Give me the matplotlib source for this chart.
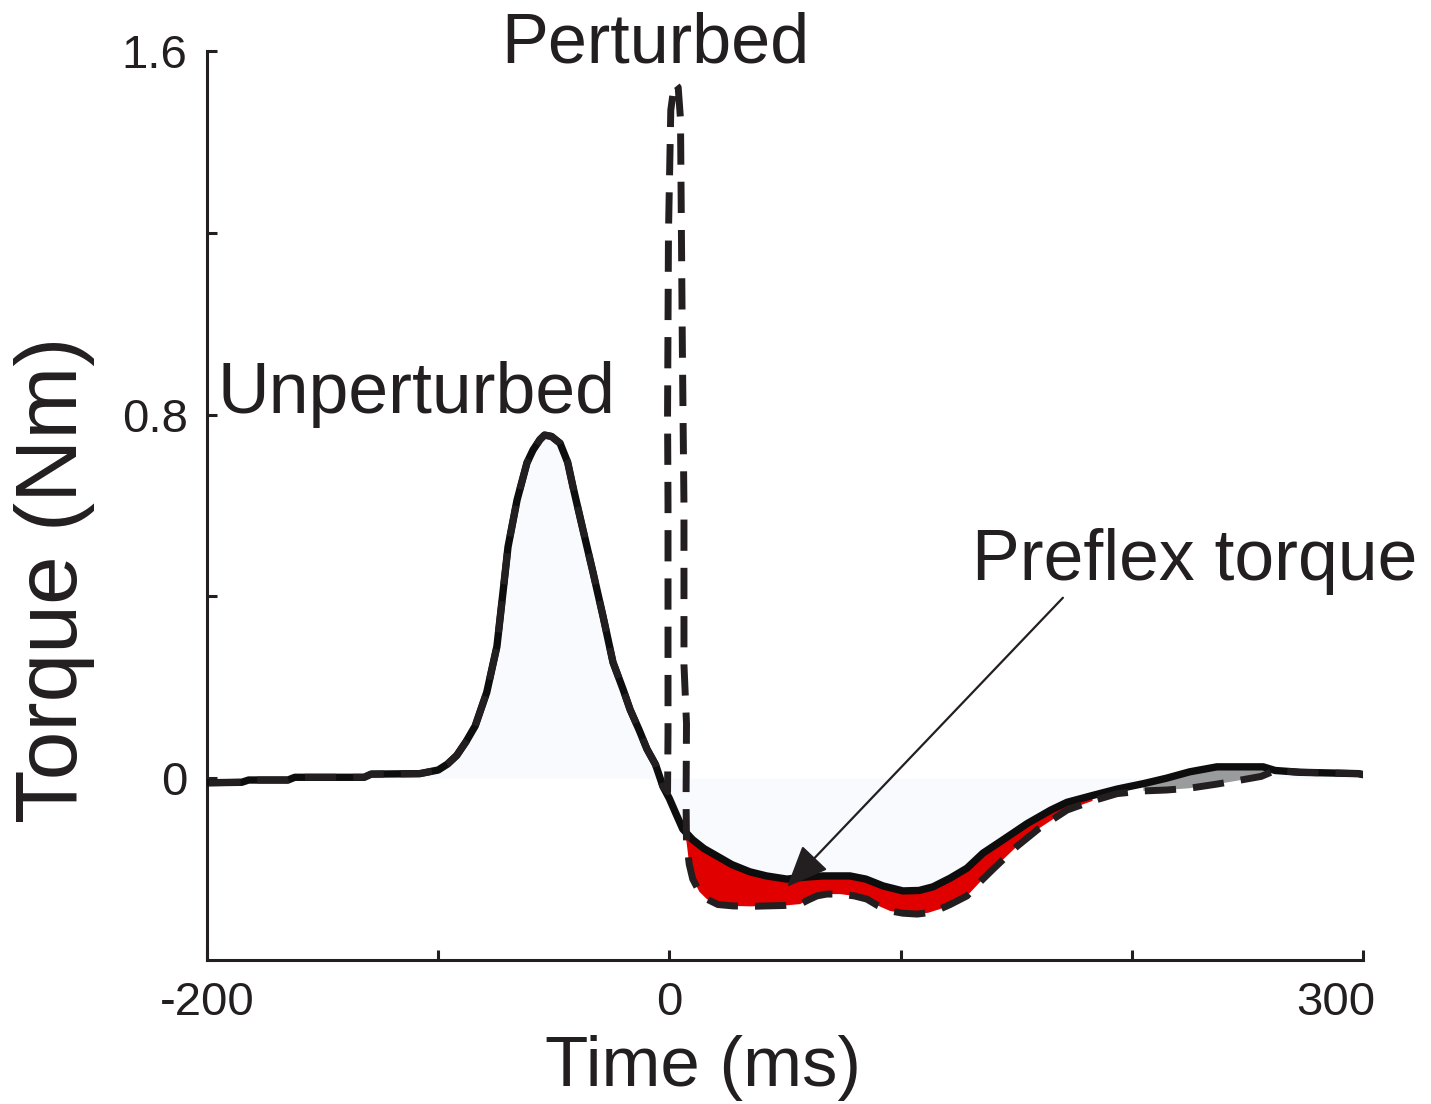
import numpy as np
import matplotlib
matplotlib.use("Agg")
import matplotlib.pyplot as plt
from matplotlib.transforms import ScaledTranslation

plt.rcParams["font.family"] = ["Liberation Sans", "DejaVu Sans"]

INK = "#231f20"

# Unperturbed joint torque (Nm) vs time (ms)
t_unpert = [-199, -185, -182, -165, -162, -132, -129, -108, -100, -96, -92, -88,
            -84, -79, -74.6, -72, -69.8, -65.9, -61.6, -59, -56, -54, -51, -47.3,
            -44, -41.7, -37.4, -33, -28.7, -24.4, -20, -17, -13, -9.7, -6, -2.8,
            0, 3, 5.8, 10, 15, 20.5, 27, 34.8, 42, 50.8, 58, 66.4, 78.1, 85, 92.4,
            101, 108, 114, 121.4, 128.7, 135.6, 143, 154.7, 165, 172, 183, 193.6,
            205, 215, 225, 236.8, 256.8, 262, 272.8, 290, 298, 302]
v_unpert = [-0.010, -0.009, -0.004, -0.004, 0.002, 0.002, 0.009, 0.010, 0.018,
            0.031, 0.050, 0.080, 0.115, 0.189, 0.290, 0.408, 0.509, 0.612, 0.694,
            0.722, 0.745, 0.755, 0.752, 0.737, 0.695, 0.641, 0.547, 0.452, 0.356,
            0.255, 0.195, 0.151, 0.105, 0.064, 0.030, -0.018, -0.045, -0.080,
            -0.112, -0.135, -0.155, -0.171, -0.190, -0.206, -0.215, -0.222, -0.218,
            -0.215, -0.215, -0.222, -0.237, -0.248, -0.247, -0.239, -0.220, -0.198,
            -0.165, -0.140, -0.100, -0.070, -0.053, -0.038, -0.024, -0.012, 0.000,
            0.014, 0.025, 0.025, 0.017, 0.013, 0.011, 0.010, 0.006]

# Perturbed torque after the perturbation onset (before onset it equals the unperturbed trace)
t_pert_post = [-0.8, -0.6, -0.6, -0.8, -0.4, 0.6, 2.2, 3.8, 4.8, 5.2, 5.6, 6.3, 6.3,
               7.4, 7.2, 7.4, 8.6, 10.1, 13, 16.2, 21, 27.5, 35, 42.2, 50, 56.5, 60,
               63.8, 68, 73.8, 80, 85.4, 90, 95.4, 101, 107.1, 112, 117, 121.4,
               128.7, 135, 140, 150.3, 160, 172, 183, 193.6, 205, 215, 225, 236.8,
               245, 256, 262, 272.8, 290, 298, 302]
v_pert_post = [-0.030, 0.100, 0.600, 0.800, 1.200, 1.470, 1.530, 1.520, 1.450, 1.200,
               0.950, 0.600, 0.250, 0.120, -0.050, -0.140, -0.190, -0.222, -0.250,
               -0.266, -0.278, -0.281, -0.282, -0.281, -0.280, -0.277, -0.268, -0.259,
               -0.255, -0.255, -0.259, -0.266, -0.280, -0.292, -0.297, -0.299, -0.296,
               -0.288, -0.278, -0.259, -0.225, -0.200, -0.150, -0.110, -0.070, -0.050,
               -0.034, -0.028, -0.026, -0.022, -0.013, -0.006, 0.004, 0.017, 0.013,
               0.011, 0.010, 0.006]

x_ticks = [-200, -100, 0, 100, 200, 300]
x_ticklabels = ["-200", "", "0", "", "", "300"]
y_ticks = [0, 0.4, 0.8, 1.2, 1.6]
y_ticklabels = ["0", "", "0.8", "", "1.6"]

tu = np.array(t_unpert)
vu = np.array(v_unpert)
pre = tu < -1
tp = np.concatenate([tu[pre], t_pert_post])
vp = np.concatenate([vu[pre], v_pert_post])

fig = plt.figure(figsize=(14.31, 11.04), dpi=100)
ax = fig.add_axes([207 / 1431, 1 - 960 / 1104, 1156 / 1431, 909 / 1104])

# faint shading under the unperturbed trace
ax.fill_between(tu, vu, 0, color="#f8fafd", lw=0, zorder=1)


def band(lo_u, lo_p, hi, color):
    mu = (tu >= lo_u) & (tu <= hi)
    mp = (tp >= lo_p) & (tp <= hi) & (vp < 0.05)
    xs = np.concatenate([tu[mu], tp[mp][::-1]])
    ys = np.concatenate([vu[mu], vp[mp][::-1]])
    ax.fill(xs, ys, color=color, lw=0, zorder=2)


band(5.8, 7.3, 186, "#e10000")   # preflex torque
band(200, 200, 262, "#9a9b9d")

ax.plot(tu, vu, color="#0d0d0d", lw=5.3, solid_joinstyle="round", zorder=3)
ax.plot(tp, vp, color=INK, lw=5.0, linestyle=(0, (4.5, 2.45)), zorder=4)

ax.set_xlim(-200, 300)
ax.set_ylim(-0.4, 1.6)
for side in ("top", "right"):
    ax.spines[side].set_visible(False)
for side in ("left", "bottom"):
    ax.spines[side].set_linewidth(2.2)
    ax.spines[side].set_color(INK)

ax.set_xticks(x_ticks)
ax.set_xticklabels(x_ticklabels)
ax.set_yticks(y_ticks)
ax.set_yticklabels(y_ticklabels)
ax.tick_params(direction="in", length=7.5, width=2.2, color=INK,
               labelsize=34, labelcolor=INK)
ax.tick_params(axis="x", pad=15)
ax.tick_params(axis="y", pad=14)
lbl = ax.get_xticklabels()[-1]
lbl.set_transform(lbl.get_transform() + ScaledTranslation(-27 / 100, 0, fig.dpi_scale_trans))

ax.set_xlabel("Time (ms)", fontsize=51, color=INK)
ax.xaxis.set_label_coords(0.429, -0.083)
ax.set_ylabel("Torque (Nm)", fontsize=63, color=INK)
ax.yaxis.set_label_coords(-0.097, 0.418)

ax.text(-6, 1.574, "Perturbed", fontsize=50.5, color=INK, ha="center",
        va="baseline", clip_on=False)
ax.text(-195.3, 0.803, "Unperturbed", fontsize=51.5, color=INK, ha="left",
        va="baseline")
ax.text(131, 0.437, "Preflex torque", fontsize=51.5, color=INK, ha="left",
        va="baseline")
ax.annotate("", xy=(50.9, -0.239), xytext=(170.2, 0.397),
            arrowprops=dict(arrowstyle="-|>,head_length=1.3,head_width=0.55",
                            mutation_scale=20, lw=1.6, color=INK,
                            shrinkA=0, shrinkB=0), zorder=6)

fig.savefig("out.png", dpi=100)
